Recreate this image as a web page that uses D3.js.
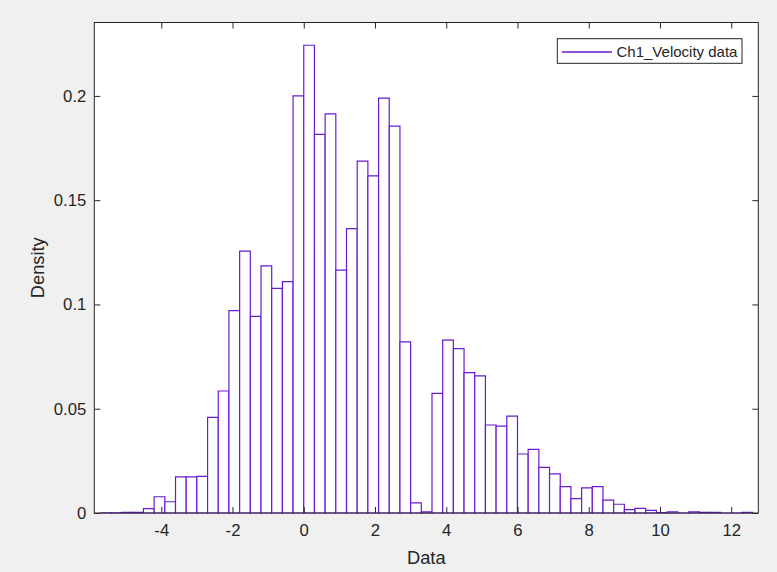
<!DOCTYPE html>
<html>
<head>
<meta charset="utf-8">
<script src="https://cdn.jsdelivr.net/npm/d3@7/dist/d3.min.js"></script>
<style>
  html, body { margin: 0; padding: 0; background: #f0f0f0; }
  svg { display: block; }
  text { font-family: "Liberation Sans", Arial, sans-serif; fill: #262626; }
</style>
</head>
<body>
<svg id="chart" width="777" height="572"></svg>
<script>
// ---- data ----
const binEdges = [-5.7,-5.4,-5.1,-4.8,-4.5,-4.2,-3.9,-3.6,-3.3,-3.0,-2.7,-2.4,-2.1,-1.8,-1.5,-1.2,-0.9,-0.6,-0.3,0.0,
  0.3,0.6,0.9,1.2,1.5,1.8,2.1,2.4,2.7,3.0,3.3,3.6,3.9,4.2,4.5,4.8,5.1,5.4,5.7,6.0,
  6.3,6.6,6.9,7.2,7.5,7.8,8.1,8.4,8.7,9.0,9.3,9.6,9.9,10.2,10.5,10.8,11.1,11.4,11.7,12.0,
  12.3,12.6];
const density = [0.0001,0.0001,0.0003,0.0003,0.0021,0.0078,0.0054,0.0173,0.0173,0.0176,
  0.0459,0.0585,0.0970,0.1256,0.0943,0.1185,0.1077,0.1109,0.2000,0.2243,
  0.1816,0.1914,0.1165,0.1364,0.1687,0.1617,0.1989,0.1855,0.0821,0.0049,
  0.0006,0.0574,0.0829,0.0788,0.0673,0.0658,0.0422,0.0417,0.0465,0.0283,
  0.0305,0.0219,0.0188,0.0126,0.0069,0.0120,0.0126,0.0062,0.0042,0.0016,
  0.0022,0.0013,0.0002,0.0006,0.0000,0.0006,0.0003,0.0003,0.0000,0.0000,
  0.0003];
const xTicks = [-4,-2,0,2,4,6,8,10,12];
const xTickLabels = ["-4","-2","0","2","4","6","8","10","12"];
const yTicks = [0,0.05,0.1,0.15,0.2];
const yTickLabels = ["0","0.05","0.1","0.15","0.2"];
const xLimits = [-5.88, 12.76];
const yLimits = [0, 0.2352];
const seriesName = "Ch1_Velocity data";
const xLabel = "Data";
const yLabel = "Density";

// ---- layout ----
const L = 94.3, R = 758.3, T = 22.5, B = 513;
const barColor = "#6a1bd0";
const axisColor = "#262626";
const tickLen = 6;

const svg = d3.select("#chart");
const x = d3.scaleLinear().domain(xLimits).range([L, R]);
const y = d3.scaleLinear().domain(yLimits).range([B, T]);

svg.append("rect").attr("x", L).attr("y", T).attr("width", R - L).attr("height", B - T).attr("fill", "#ffffff");

svg.append("clipPath").attr("id", "clip").append("rect")
  .attr("x", L).attr("y", T - 1).attr("width", R - L).attr("height", B - T + 2);

const bins = density.map((d, i) => ({x0: binEdges[i], x1: binEdges[i + 1], v: d}));

svg.append("g").attr("clip-path", "url(#clip)")
  .selectAll("path").data(bins).join("path")
  .attr("d", d => {
    const a = x(d.x0), b = x(d.x1), top = y(d.v), base = y(0);
    return `M${a},${base}V${top}H${b}V${base}Z`;
  })
  .attr("fill", "#ffffff")
  .attr("stroke", barColor)
  .attr("stroke-width", 1.2);

// axes via d3 axis generators (inward ticks)
const xAxisB = d3.axisBottom(x).tickValues(xTicks).tickSize(-tickLen).tickPadding(11).tickFormat((d, i) => xTickLabels[i]);
const xAxisT = d3.axisTop(x).tickValues(xTicks).tickSize(-tickLen).tickFormat("");
const yAxisL = d3.axisLeft(y).tickValues(yTicks).tickSize(-tickLen).tickPadding(8).tickFormat((d, i) => yTickLabels[i]);
const yAxisR = d3.axisRight(y).tickValues(yTicks).tickSize(-tickLen).tickFormat("");

function styleAxis(g) {
  g.select(".domain").remove();
  g.selectAll(".tick line").attr("stroke", axisColor).attr("stroke-width", 1);
  g.selectAll(".tick text").attr("fill", axisColor).style("font-family", "'Liberation Sans', Arial, sans-serif").style("font-size", "16.7px");
}

svg.append("g").attr("transform", `translate(0,${B})`).call(xAxisB).call(styleAxis)
  .selectAll(".tick text").attr("dy", "0.71em");
svg.append("g").attr("transform", `translate(0,${T})`).call(xAxisT).call(styleAxis);
svg.append("g").attr("transform", `translate(${L},0)`).call(yAxisL).call(styleAxis);
svg.append("g").attr("transform", `translate(${R},0)`).call(yAxisR).call(styleAxis);

svg.append("rect").attr("x", L).attr("y", T).attr("width", R - L).attr("height", B - T)
  .attr("fill", "none").attr("stroke", axisColor).attr("stroke-width", 1);

// axis labels
svg.append("text").attr("x", (L + R) / 2).attr("y", 557).attr("text-anchor", "middle")
  .attr("dominant-baseline", "central").style("font-size", "18.3px").text(xLabel);
svg.append("text").attr("transform", `translate(37,${(T + B) / 2}) rotate(-90)`)
  .attr("text-anchor", "middle").attr("dominant-baseline", "central")
  .style("font-size", "18.3px").text(yLabel);

// legend
const lg = svg.append("g");
lg.append("rect").attr("x", 557.3).attr("y", 38.7).attr("width", 184.7).attr("height", 24.6)
  .attr("fill", "#ffffff").attr("stroke", axisColor).attr("stroke-width", 1);
lg.append("line").attr("x1", 562).attr("x2", 612).attr("y1", 52).attr("y2", 52)
  .attr("stroke", barColor).attr("stroke-width", 1.5);
lg.append("text").attr("x", 616.5).attr("y", 51.5).attr("dominant-baseline", "central")
  .style("font-size", "15px").text(seriesName);
</script>
</body>
</html>
